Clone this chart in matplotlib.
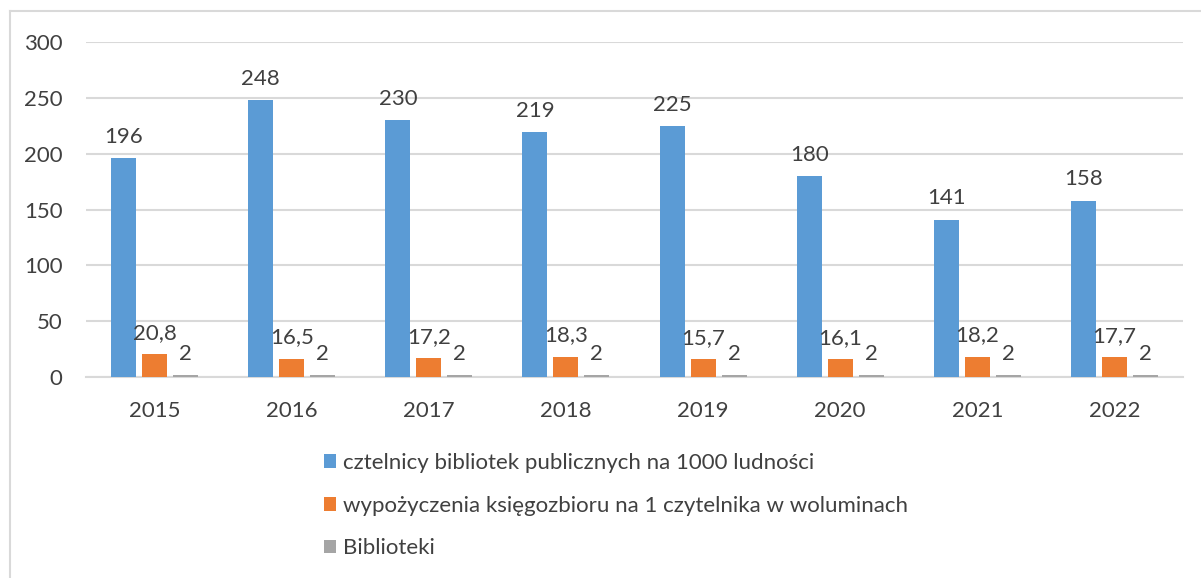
import matplotlib
matplotlib.use("Agg")
import matplotlib.pyplot as plt
import numpy as np
from matplotlib.lines import Line2D

years = ["2015", "2016", "2017", "2018", "2019", "2020", "2021", "2022"]
czytelnicy = [196, 248, 230, 219, 225, 180, 141, 158]
wypozyczenia = [20.8, 16.5, 17.2, 18.3, 15.7, 16.1, 18.2, 17.7]
biblioteki = [2, 2, 2, 2, 2, 2, 2, 2]
series_names = [
    "cztelnicy bibliotek publicznych na 1000 ludności",
    "wypożyczenia księgozbioru na 1 czytelnika w woluminach",
    "Biblioteki",
]
colors = ["#5B9BD5", "#ED7D31", "#A5A5A5"]
yticks = [0, 50, 100, 150, 200, 250, 300]

plt.rcParams['font.family'] = ['Lato', 'DejaVu Sans']
txt = "#404040"
fs = 16

fig = plt.figure(figsize=(12.01, 5.78), dpi=100)
# outer frame (left and top edges visible)
fx, fy = 9.5 / 1201, 1 - 10.5 / 578
fig.add_artist(Line2D([fx, fx], [0, fy], transform=fig.transFigure,
                      color="#D9D9D9", linewidth=1.5))
fig.add_artist(Line2D([fx, 1], [fy, fy], transform=fig.transFigure,
                      color="#D9D9D9", linewidth=1.5))
ax = fig.add_axes([86/1201, 1 - 377/578, (1183 - 86)/1201, (377 - 42)/578])

x = np.arange(len(years))
w = 0.183
step = 0.226
data = [czytelnicy, wypozyczenia, biblioteki]
labels_fmt = [lambda v: f"{v:g}", lambda v: f"{v:.1f}".replace(".", ","), lambda v: f"{v:g}"]
for i, (vals, c, name) in enumerate(zip(data, colors, series_names)):
    bars = ax.bar(x + (i - 1) * step, vals, width=w, color=c, label=name, zorder=3)
    for b, v in zip(bars, vals):
        ax.annotate(labels_fmt[i](v), (b.get_x() + b.get_width() / 2, b.get_height()),
                    xytext=(0, 8), textcoords="offset points", ha="center", va="bottom",
                    fontsize=fs, color=txt, zorder=4)

ax.set_xlim(-0.5, len(years) - 0.5)
ax.set_ylim(0, 300)
ax.set_yticks(yticks)
ax.set_yticklabels([str(t) for t in yticks])
ax.set_xticks(x)
ax.set_xticklabels(years)
ax.tick_params(axis="both", length=0, labelsize=fs, labelcolor=txt)
ax.tick_params(axis="y", pad=17)
ax.tick_params(axis="x", pad=17)
ax.grid(axis="y", color="#D9D9D9", linewidth=1.5, zorder=0)
for s in ["top", "right", "left"]:
    ax.spines[s].set_visible(False)
ax.spines["bottom"].set_color("#D9D9D9")
ax.spines["bottom"].set_linewidth(1.5)

leg = fig.legend(loc="upper left", bbox_to_anchor=(324/1201, 1 - 453/578), frameon=False,
                 fontsize=fs, labelcolor=txt, handlelength=0.55, handleheight=0.55,
                 handletextpad=0.3, labelspacing=1.02, borderpad=0, borderaxespad=0)
plt.savefig("out.png", dpi=100)
